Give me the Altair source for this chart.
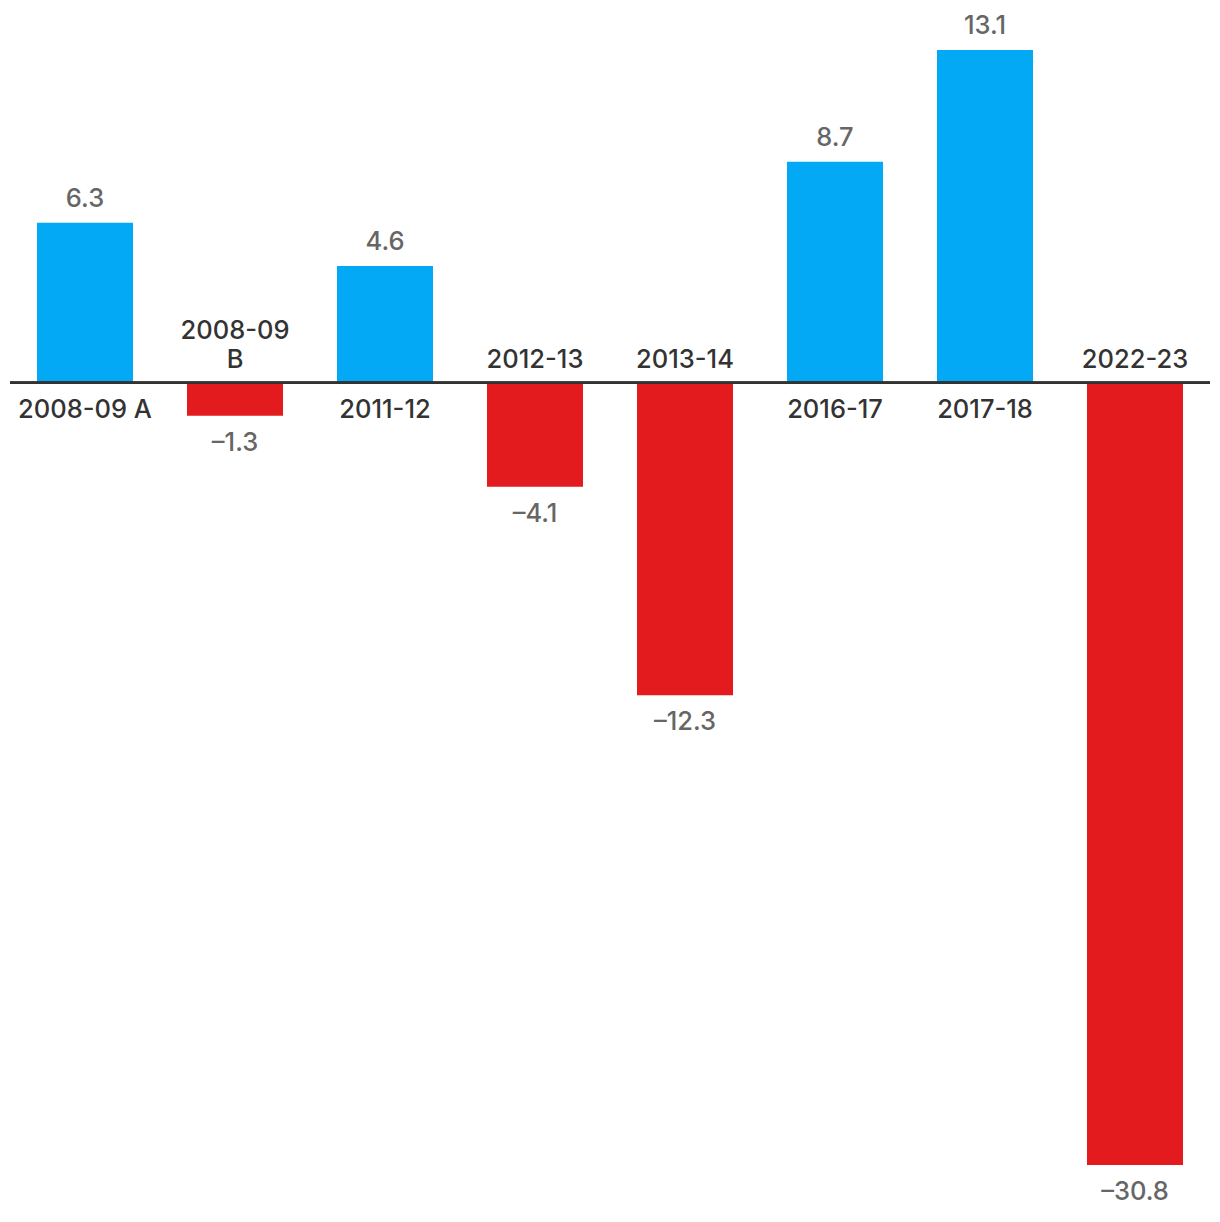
import altair as alt
import pandas as pd

categories = ["2008-09 A", "2008-09 B", "2011-12", "2012-13", "2013-14", "2016-17", "2017-18", "2022-23"]
category_labels = ["2008-09 A", "2008-09\nB", "2011-12", "2012-13", "2013-14", "2016-17", "2017-18", "2022-23"]
values = [6.3, -1.3, 4.6, -4.1, -12.3, 8.7, 13.1, -30.8]

df = pd.DataFrame({"cat": categories, "label": category_labels, "value": values})
df["vlabel"] = [f"{v:.1f}".replace("-", "\u2013") for v in values]
df["sign"] = ["pos" if v >= 0 else "neg" for v in values]
df["zero"] = 0

FONT = "Inter"
FS = 25.5
FW = 500

x = alt.X("cat:N", sort=categories, axis=None,
          scale=alt.Scale(paddingInner=0.36, paddingOuter=0.18))
yscale = alt.Scale(domain=[min(values), max(values)], nice=False, zero=False)

base = alt.Chart(df)

bars = base.mark_bar().encode(
    x=x,
    y=alt.Y("value:Q", scale=yscale, axis=None),
    y2=alt.Y2("zero:Q"),
    color=alt.Color("sign:N", scale=alt.Scale(domain=["pos", "neg"], range=["#03A9F4", "#E31B1E"]), legend=None),
)

zero_rule = base.mark_rule(color="#333333", strokeWidth=2).encode(y=alt.Y("zero:Q", scale=yscale))

val_pos = base.transform_filter("datum.value >= 0").mark_text(
    baseline="alphabetic", dy=-16, font=FONT, fontSize=FS, fontWeight=FW, color="#666666"
).encode(x=x, y=alt.Y("value:Q", scale=yscale), text="vlabel:N")

val_neg = base.transform_filter("datum.value < 0").mark_text(
    baseline="alphabetic", dy=35, font=FONT, fontSize=FS, fontWeight=FW, color="#666666"
).encode(x=x, y=alt.Y("value:Q", scale=yscale), text="vlabel:N")

cat_pos = base.transform_filter("datum.value >= 0").mark_text(
    baseline="alphabetic", dy=35, font=FONT, fontSize=FS, fontWeight=FW, color="#333333"
).encode(x=x, y=alt.Y("zero:Q", scale=yscale), text="label:N")

cat_neg = base.transform_filter("datum.value < 0 && indexof(datum.label, '\\n') < 0").mark_text(
    baseline="alphabetic", dy=-15, font=FONT, fontSize=FS, fontWeight=FW, color="#333333"
).encode(x=x, y=alt.Y("zero:Q", scale=yscale), text="label:N")

cat_neg_multi = base.transform_filter("datum.value < 0 && indexof(datum.label, '\\n') >= 0").mark_text(
    baseline="alphabetic", dy=-44, font=FONT, fontSize=FS, fontWeight=FW, color="#333333",
    lineBreak="\n", lineHeight=29
).encode(x=x, y=alt.Y("zero:Q", scale=yscale), text="label:N")

chart = alt.layer(bars, zero_rule, val_pos, val_neg, cat_pos, cat_neg, cat_neg_multi).properties(
    width=1200, height=1115,
    autosize=alt.AutoSizeParams(type="none"),
    padding={"left": 2, "top": 42, "right": 2, "bottom": 50},
).configure_view(stroke=None)

chart.save("out.html", embed_options={"renderer": "svg", "actions": False})
